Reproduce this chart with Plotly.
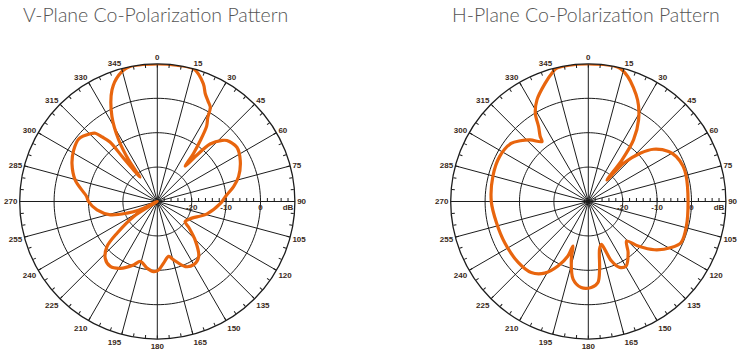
import plotly.graph_objects as go
import numpy as np

# ---------------- data (angle in degrees, clockwise from top; level in dB) -------------
v_theta = [0, 8, 15.3, 21.3, 24, 27, 29.4, 31, 33.2, 35.2, 37, 38.3, 40, 42.6, 46.7, 48.8,
           55.7, 63.7, 73, 78.9, 84.5, 92, 103.9, 117.7, 126, 129.4, 135.7, 143, 150, 156.7,
           164.4, 168.4, 174.2, 178.9, 183, 188.8, 195.8, 200.5, 209, 215.9, 222.5, 228.2,
           231.8, 237.7, 241, 245, 249, 254.2, 262, 270, 274, 284.4, 293.8, 301.4, 308.6,
           315.3, 317.8, 319.5, 321.5, 322, 323, 324.5, 325.4, 327.9, 331.9, 337.9, 343, 348, 360]
v_db = [10.0, 10.0, 10.0, 6.8, 4.3, 2.6, 1.4, -1.5, -3.8, -8.3, -12.6, -16.9, -13.4, -7.3, -4.1, -3.1,
        -2.0, -3.1, -5.3, -7.4, -9.7, -11.7, -15.1, -19.2, -20.0, -18.2, -14.2, -10.0, -8.8, -9.4,
        -12.4, -13.7, -12.0, -10.1, -9.6, -10.4, -11.9, -10.3, -7.8, -6.7, -7.6, -10.4,
        -15.1, -21.9, -30.0, -24.2, -20.6, -15.8, -12.3, -10.0, -9.4, -5.4, -2.9, -1.5, -0.8,
        -2.3, -3.2, -5.3, -7.9, -13.4, -18.4, -21.3, -15.3, -8.9, -2.0, 5.0, 8.4, 10.0, 10.0]

h_theta = [0, 12.3, 17.5, 25.9, 31.6, 36.3, 39, 40.9, 42.7, 47.1, 51.3, 58.1, 62.9, 69.7, 75.4,
           89.7, 104, 113.8, 119, 126.1, 131.8, 136, 142, 149.5, 154.6, 158.8, 161, 163, 166.7,
           170.5, 173.2, 178, 184.7, 191.1, 196.4, 199, 200.5, 205.2, 211.4, 218.8, 229, 243.9,
           257.1, 270, 285, 297, 307, 311.8, 316.7, 322.3, 323.5, 326.4, 329, 333.2, 339.8, 345,
           346.5, 352, 360]
h_db = [10.0, 10.0, 8.1, 2.8, -2.1, -7.8, -14.4, -21.7, -14.9, -9.4, -5.7, -2.5, -1.3, -0.6, -0.6,
        -1.0, -0.6, -0.5, -2.4, -6.2, -10.6, -14.0, -11.2, -8.3, -8.8, -11.5, -15.3, -17.0, -15.8,
        -10.1, -6.3, -5.0, -4.9, -7.0, -12.5, -16.3, -13.1, -9.3, -5.6, -3.5, -3.0, -2.9,
        -2.6, -1.8, -1.3, -1.1, -1.9, -3.5, -5.4, -8.0, -6.5, -3.9, -0.1, 3.1, 6.5, 9.2,
        9.8, 10.0, 10.0]

titles = ["V-Plane Co-Polarization Pattern", "H-Plane Co-Polarization Pattern"]
angle_ticks = list(range(0, 360, 5))
angle_labels = [str(a) if a % 15 == 0 else "" for a in angle_ticks]
radial_ticks = list(range(-28, 10, 2))
radial_named = {-20: "-20", -10: "-10", 0: "0", 8: "dB"}
radial_labels = [radial_named.get(v, "") for v in radial_ticks]
ring_levels = [-20, -10, 0]
RMIN, RMAX = -30, 10

# ---------------- layout geometry -------------
W, H = 742, 353
R = 137.6
CY = 201.5
CX = [157.3, 588.3]
TITLE_X = [21, 450]

LINE = "#1c1c1c"
ORANGE = "#E8650E"
TICKFONT = dict(family="Liberation Sans, Arial", size=8, color="#3a2a20", weight="bold")

fig = go.Figure()
series = [(v_theta, v_db), (h_theta, h_db)]
for i, (th, db) in enumerate(series):
    sub = "polar" if i == 0 else "polar2"
    ring_theta = list(np.arange(0, 361, 2))
    for lv in ring_levels:
        fig.add_trace(go.Scatterpolar(r=[lv] * len(ring_theta), theta=ring_theta, mode="lines",
                                      line=dict(color=LINE, width=1), subplot=sub,
                                      hoverinfo="skip", showlegend=False))
    sr, st = [], []
    for a in range(0, 360, 15):
        sr += [RMIN, RMAX, None]
        st += [a, a, None]
    fig.add_trace(go.Scatterpolar(r=sr, theta=st, mode="lines", line=dict(color=LINE, width=1),
                                  subplot=sub, hoverinfo="skip", showlegend=False,
                                  connectgaps=False))
    fig.add_trace(go.Scatterpolar(r=db, theta=th, mode="lines",
                                  line=dict(color=ORANGE, width=3.2, shape="spline", smoothing=0.9),
                                  subplot=sub, showlegend=False))

def polar_cfg(cx):
    return dict(
        domain=dict(x=[(cx - R) / W, (cx + R) / W], y=[(H - CY - R) / H, (H - CY + R) / H]),
        bgcolor="white",
        angularaxis=dict(rotation=90, direction="clockwise", tickmode="array",
                         tickvals=angle_ticks, ticktext=angle_labels, ticks="inside",
                         ticklen=3, tickwidth=1, tickcolor=LINE, showgrid=False,
                         showline=True, linecolor=LINE, linewidth=1.3, tickfont=TICKFONT),
        radialaxis=dict(range=[RMIN, RMAX], angle=0, tickmode="array", tickvals=radial_ticks,
                        ticktext=radial_labels, ticks="inside", ticklen=3, tickcolor=LINE,
                        showgrid=False, showline=False, tickfont=TICKFONT, tickangle=0,
                        side="clockwise"),
    )

annotations = []
for i, t in enumerate(titles):
    annotations.append(dict(text=t, x=TITLE_X[i] / W, y=1 - 15 / H, xref="paper", yref="paper",
                            xanchor="left", yanchor="middle", showarrow=False,
                            font=dict(family="Lato", size=19.5, color="#555555", weight=300)))

fig.update_layout(width=W, height=H, autosize=False, margin=dict(l=0, r=0, t=0, b=0),
                  paper_bgcolor="white", plot_bgcolor="white",
                  polar=polar_cfg(CX[0]), polar2=polar_cfg(CX[1]),
                  annotations=annotations, showlegend=False)

fig.write_html("out.html")
